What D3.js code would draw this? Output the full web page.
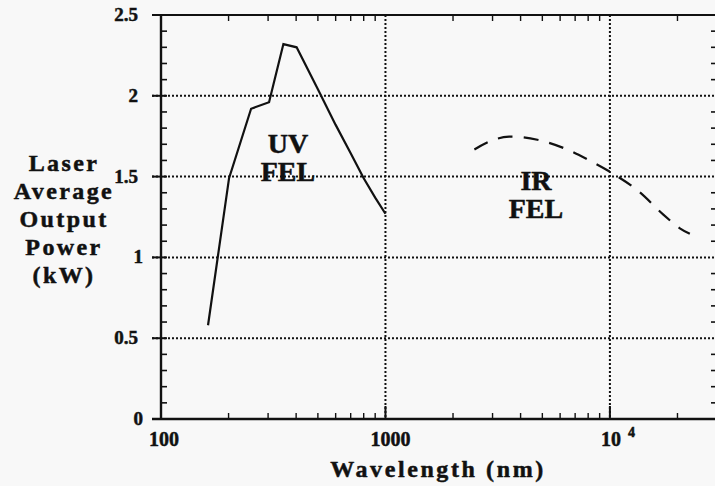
<!DOCTYPE html>
<html>
<head>
<meta charset="utf-8">
<script src="https://cdn.jsdelivr.net/npm/d3@7"></script>
<style>
  html, body { margin: 0; padding: 0; background: #f8f8f8; }
  svg { display: block; }
  text { font-family: "Liberation Serif", "Times New Roman", serif; font-weight: 700; fill: #111; stroke: #111; stroke-width: 0.5px; }
</style>
</head>
<body>
<div id="chart"></div>
<script>
// UV FEL curve (solid)
const uvWavelength = [162, 201, 252, 303, 351, 402, 500, 600, 700, 800, 900, 1000];
const uvPower = [0.58, 1.49, 1.92, 1.96, 2.32, 2.30, 2.04, 1.82, 1.645, 1.49, 1.37, 1.27];

// IR FEL curve (dashed)
const irWavelength = [2490, 3000, 3560, 4750, 6270, 8100, 10000, 13200, 17300, 20500, 22700];
const irPower = [1.668, 1.725, 1.747, 1.728, 1.675, 1.60, 1.53, 1.418, 1.265, 1.18, 1.146];

const yTicks = [0, 0.5, 1, 1.5, 2, 2.5];
const yTickLabels = ['0', '0.5', '1', '1.5', '2', '2.5'];
const xGrid = [1000, 10000];
const yGrid = [0.5, 1, 1.5, 2];
const yTitleLines = ['Laser', 'Average', 'Output', 'Power', '(kW)'];

const width = 715;
const height = 486;
const ink = '#111';

const svg = d3.select('#chart').append('svg')
  .attr('width', width)
  .attr('height', height);

svg.append('rect').attr('width', width).attr('height', height).attr('fill', '#f8f8f8');

const x = d3.scaleLog().domain([100, 30000]).range([161, 717]);
const y = d3.scaleLinear().domain([0, 2.5]).range([419, 15]);

// minor tick positions along the log axis
const xMinor = [];
[100, 1000, 10000].forEach(dec => {
  for (let k = 2; k <= 9; k++) {
    if (dec * k <= 30000) xMinor.push(dec * k);
  }
});
const yMinor = d3.range(0, 26).map(i => i / 10).filter(v => Math.round(v * 10) % 5 !== 0);

// grid lines
const grid = svg.append('g')
  .attr('stroke', ink)
  .attr('stroke-width', 2)
  .attr('stroke-dasharray', '2,2');

grid.selectAll('.hgrid')
  .data(yGrid)
  .enter().append('line')
  .attr('class', 'hgrid')
  .attr('x1', 152)
  .attr('x2', x(30000))
  .attr('y1', d => y(d))
  .attr('y2', d => y(d));

grid.selectAll('.vgrid')
  .data(xGrid)
  .enter().append('line')
  .attr('class', 'vgrid')
  .attr('x1', d => x(d))
  .attr('x2', d => x(d))
  .attr('y1', y(2.5))
  .attr('y2', y(0));

// frame and ticks
const axes = svg.append('g').attr('stroke', ink);

axes.append('line')
  .attr('x1', x(100)).attr('x2', x(100))
  .attr('y1', y(2.5)).attr('y2', y(0))
  .attr('stroke-width', 2.4);
axes.append('line')
  .attr('x1', 152).attr('x2', x(30000))
  .attr('y1', y(0)).attr('y2', y(0))
  .attr('stroke-width', 2.6);
axes.append('line')
  .attr('x1', 152).attr('x2', x(30000))
  .attr('y1', y(2.5)).attr('y2', y(2.5))
  .attr('stroke-width', 2.2);
axes.append('line')
  .attr('x1', x(30000)).attr('x2', x(30000))
  .attr('y1', y(2.5)).attr('y2', y(0))
  .attr('stroke-width', 2);

// left major ticks
axes.selectAll('.ymajor')
  .data(yTicks)
  .enter().append('line')
  .attr('x1', 152).attr('x2', x(100) + 6)
  .attr('y1', d => y(d)).attr('y2', d => y(d))
  .attr('stroke-width', 2);

// left and right minor ticks
axes.selectAll('.yminorL')
  .data(yMinor)
  .enter().append('line')
  .attr('x1', x(100)).attr('x2', x(100) + 6)
  .attr('y1', d => y(d)).attr('y2', d => y(d))
  .attr('stroke-width', 1.6);
axes.selectAll('.yminorR')
  .data(yMinor)
  .enter().append('line')
  .attr('x1', x(30000) - 6).attr('x2', x(30000))
  .attr('y1', d => y(d)).attr('y2', d => y(d))
  .attr('stroke-width', 1.6);

// bottom and top minor ticks
axes.selectAll('.xminorB')
  .data(xMinor)
  .enter().append('line')
  .attr('x1', d => x(d)).attr('x2', d => x(d))
  .attr('y1', y(0) - 6).attr('y2', y(0))
  .attr('stroke-width', 1.4);
axes.selectAll('.xminorT')
  .data(xMinor)
  .enter().append('line')
  .attr('x1', d => x(d)).attr('x2', d => x(d))
  .attr('y1', y(2.5)).attr('y2', y(2.5) + 6)
  .attr('stroke-width', 1.4);
axes.selectAll('.xmajorB')
  .data(xGrid)
  .enter().append('line')
  .attr('x1', d => x(d)).attr('x2', d => x(d))
  .attr('y1', y(0) - 13).attr('y2', y(0))
  .attr('stroke-width', 2);

// y tick labels
svg.selectAll('.ylabel')
  .data(yTicks)
  .enter().append('text')
  .attr('x', d => (d === 0 || d === 1) ? 143 : 138)
  .attr('y', d => y(d) + 6)
  .attr('text-anchor', 'end')
  .style('font-size', '19px')
  .text((d, i) => yTickLabels[i]);

// x tick labels
svg.append('text')
  .attr('x', x(100) + 3).attr('y', 446)
  .attr('text-anchor', 'middle')
  .style('font-size', '20px')
  .text('100');
svg.append('text')
  .attr('x', x(1000) + 5).attr('y', 446)
  .attr('text-anchor', 'middle')
  .style('font-size', '20px')
  .text('1000');
const tenK = svg.append('text')
  .attr('x', x(10000) - 9).attr('y', 446)
  .attr('text-anchor', 'start')
  .style('font-size', '20px');
tenK.append('tspan').text('10');
tenK.append('tspan')
  .attr('dx', 7).attr('dy', -9)
  .style('font-size', '14px')
  .text('4');

// axis titles
svg.append('text')
  .attr('x', 438).attr('y', 477)
  .attr('text-anchor', 'middle')
  .style('font-size', '24px')
  .style('letter-spacing', '2.6px')
  .text('Wavelength  (nm)');

svg.selectAll('.ytitle')
  .data(yTitleLines)
  .enter().append('text')
  .attr('x', 64)
  .attr('y', (d, i) => 171 + i * 28)
  .attr('text-anchor', 'middle')
  .style('font-size', '24px')
  .style('letter-spacing', '2.4px')
  .text(d => d);

// curves
const uvLine = d3.line()
  .x((d, i) => x(uvWavelength[i]))
  .y(d => y(d));

svg.append('path')
  .datum(uvPower)
  .attr('d', uvLine)
  .attr('fill', 'none')
  .attr('stroke', ink)
  .attr('stroke-width', 2.2);

const irLine = d3.line()
  .x((d, i) => x(irWavelength[i]))
  .y(d => y(d))
  .curve(d3.curveCatmullRom);

svg.append('path')
  .datum(irPower)
  .attr('d', irLine)
  .attr('fill', 'none')
  .attr('stroke', ink)
  .attr('stroke-width', 2.2)
  .attr('stroke-dasharray', '15,11');

// region labels
const labels = [
  {lines: ['UV', 'FEL'], cx: 288, y0: 153},
  {lines: ['IR', 'FEL'], cx: 536, y0: 190}
];
labels.forEach(l => {
  svg.selectAll(null)
    .data(l.lines)
    .enter().append('text')
    .attr('x', l.cx)
    .attr('y', (d, i) => l.y0 + i * 28)
    .attr('text-anchor', 'middle')
    .style('font-size', '28px')
    .text(d => d);
});
</script>
</body>
</html>
